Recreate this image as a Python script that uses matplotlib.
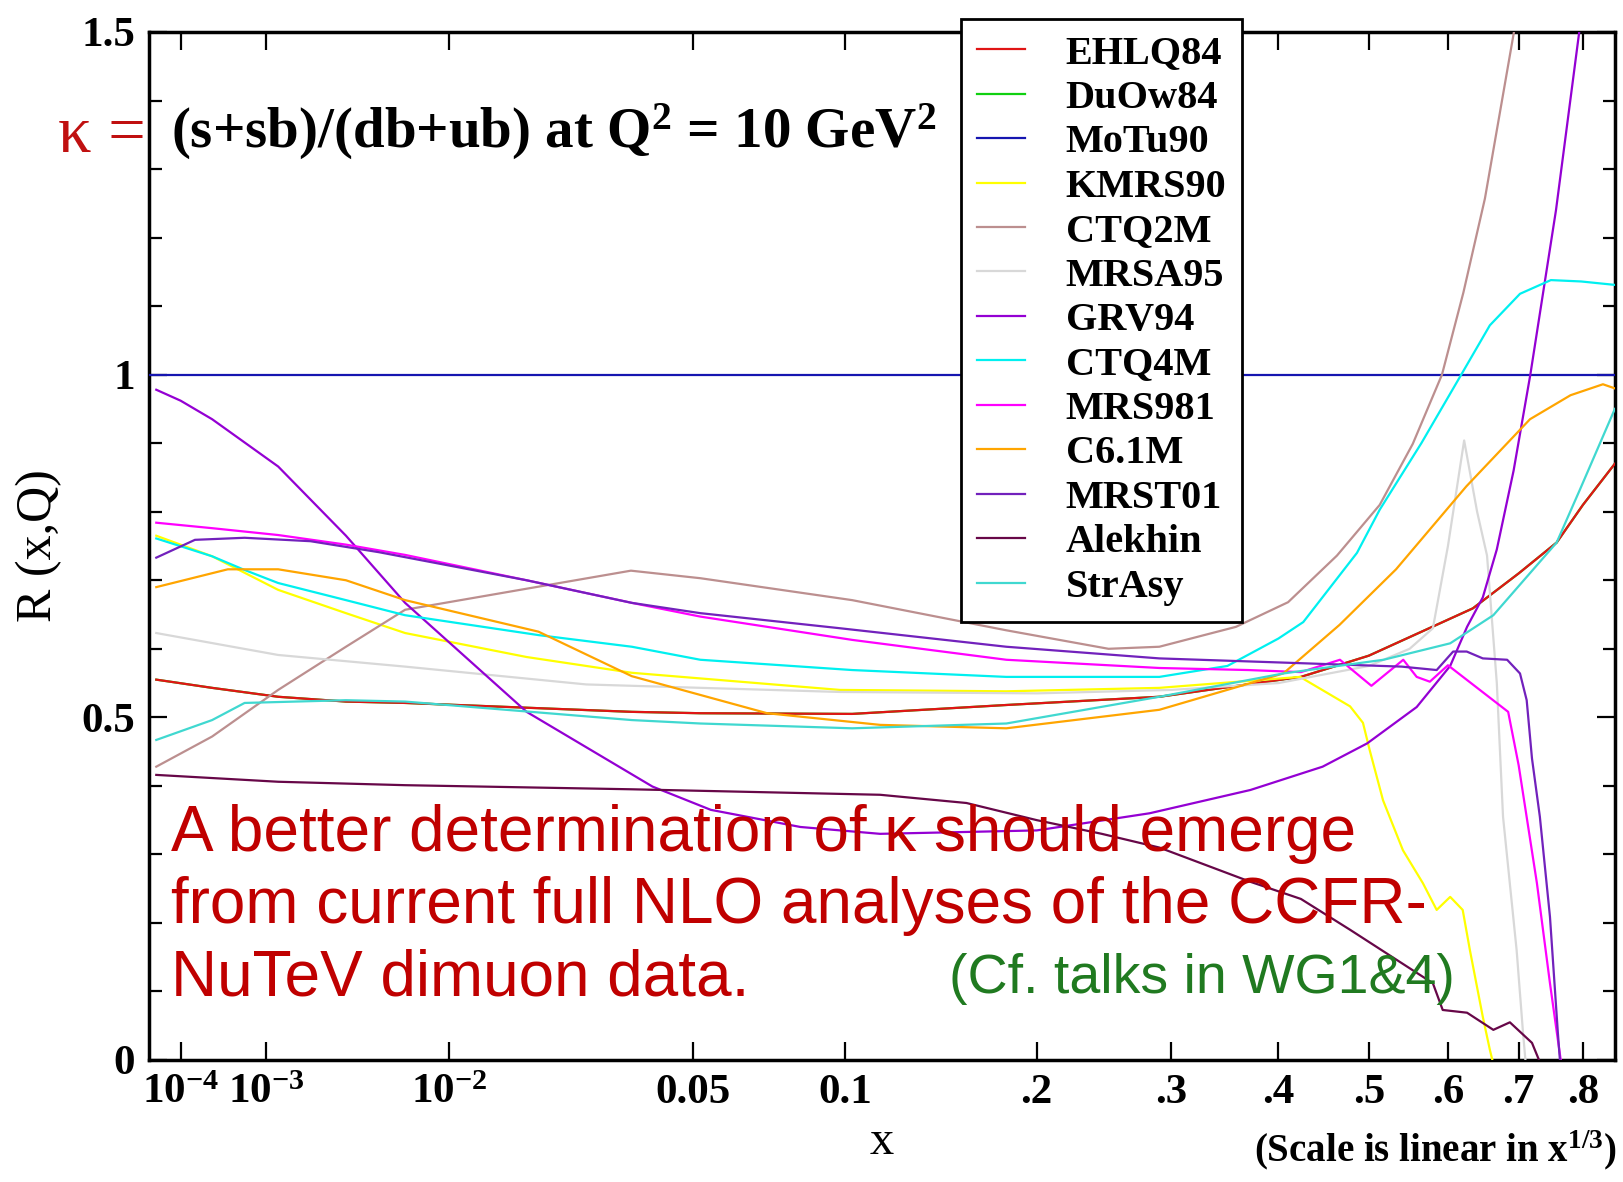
import numpy as np
import matplotlib
matplotlib.use('Agg')
import matplotlib.pyplot as plt
from matplotlib.ticker import FixedLocator, MultipleLocator, NullLocator

plt.rcParams['font.family'] = ['Liberation Serif', 'DejaVu Serif']
plt.rcParams['font.weight'] = 'bold'
plt.rcParams['mathtext.fontset'] = 'custom'
plt.rcParams['mathtext.rm'] = 'Liberation Serif:bold'
plt.rcParams['mathtext.bf'] = 'Liberation Serif:bold'
plt.rcParams['mathtext.it'] = 'Liberation Serif:bold'

# --- data (x, R) ---
x_ehlq = [3e-5, 2.9e-4, 1.25e-3, 3.4e-3, 6.6e-3, 0.036, 0.052, 0.103, 0.181, 0.29, 0.4235, 0.5, 0.585, 0.634, 0.70, 0.758, 0.80, 0.853]
y_ehlq = [0.555, 0.543, 0.530, 0.523, 0.521, 0.508, 0.506, 0.505, 0.518, 0.530, 0.559, 0.59, 0.635, 0.659, 0.71, 0.755, 0.81, 0.87]

# DuOw84 lies under EHLQ84 in the picture
x_duow = x_ehlq
y_duow = y_ehlq

x_motu = [1e-5, 0.9]
y_motu = [1.0, 1.0]

x_kmrs = [3e-5, 2.9e-4, 1.25e-3, 3.4e-3, 6.6e-3, 0.0184, 0.036, 0.098, 0.181, 0.29, 0.4226, 0.478, 0.493, 0.501, 0.517, 0.5416, 0.567, 0.585, 0.603, 0.62, 0.63, 0.648, 0.658, 0.664]
y_kmrs = [0.765, 0.735, 0.686, 0.652, 0.623, 0.588, 0.565, 0.540, 0.538, 0.543, 0.559, 0.516, 0.492, 0.452, 0.379, 0.306, 0.258, 0.219, 0.238, 0.219, 0.16, 0.063, 0.015, -0.01]

x_ctq2 = [3e-5, 2.9e-4, 1.25e-3, 3.4e-3, 6.6e-3, 0.0358, 0.052, 0.103, 0.181, 0.25, 0.29, 0.358, 0.41, 0.463, 0.513, 0.554, 0.592, 0.621, 0.651, 0.693, 0.70]
y_ctq2 = [0.428, 0.472, 0.540, 0.603, 0.657, 0.714, 0.703, 0.671, 0.627, 0.600, 0.603, 0.632, 0.668, 0.736, 0.81, 0.899, 1.0, 1.12, 1.257, 1.5, 1.56]

x_mrsa = [3e-5, 1.25e-3, 6.6e-3, 0.0274, 0.098, 0.2, 0.3, 0.4, 0.5, 0.55, 0.58, 0.60, 0.622, 0.64, 0.654, 0.668, 0.677, 0.697, 0.7065, 0.711]
y_mrsa = [0.623, 0.591, 0.574, 0.548, 0.537, 0.535, 0.54, 0.55, 0.575, 0.60, 0.63, 0.75, 0.904, 0.80, 0.736, 0.55, 0.355, 0.16, 0.04, -0.01]

x_grv = [3e-5, 1e-4, 2.9e-4, 1.25e-3, 3.4e-3, 6.6e-3, 0.0184, 0.0404, 0.0548, 0.083, 0.115, 0.2, 0.282, 0.372, 0.447, 0.498, 0.559, 0.603, 0.626, 0.648, 0.668, 0.6925, 0.7175, 0.757, 0.794, 0.80]
y_grv = [0.978, 0.962, 0.935, 0.866, 0.765, 0.667, 0.508, 0.399, 0.365, 0.34, 0.33, 0.335, 0.36, 0.394, 0.428, 0.462, 0.515, 0.575, 0.632, 0.675, 0.745, 0.86, 1.0, 1.24, 1.5, 1.56]

x_ctq4 = [3e-5, 2.9e-4, 6.5e-4, 1.25e-3, 3.4e-3, 6.6e-3, 0.02, 0.036, 0.052, 0.103, 0.181, 0.29, 0.35, 0.40, 0.426, 0.486, 0.513, 0.565, 0.618, 0.658, 0.702, 0.749, 0.797, 0.853]
y_ctq4 = [0.761, 0.735, 0.715, 0.696, 0.671, 0.649, 0.62, 0.603, 0.584, 0.569, 0.559, 0.559, 0.575, 0.615, 0.639, 0.74, 0.803, 0.90, 1.0, 1.072, 1.118, 1.138, 1.136, 1.131]

x_mrs98 = [3e-5, 2.9e-4, 1.25e-3, 3.4e-3, 6.6e-3, 0.0184, 0.036, 0.052, 0.103, 0.181, 0.29, 0.37, 0.4235, 0.4664, 0.503, 0.542, 0.559, 0.576, 0.60, 0.6845, 0.70, 0.7275, 0.7476, 0.760, 0.766]
y_mrs98 = [0.784, 0.776, 0.766, 0.752, 0.737, 0.70, 0.667, 0.647, 0.613, 0.584, 0.572, 0.569, 0.566, 0.584, 0.546, 0.584, 0.559, 0.552, 0.576, 0.508, 0.43, 0.258, 0.112, 0.029, -0.01]

x_c61 = [3e-5, 4.4e-4, 1.25e-3, 3.4e-3, 6.6e-3, 0.02, 0.036, 0.0716, 0.115, 0.181, 0.29, 0.405, 0.466, 0.533, 0.625, 0.717, 0.78, 0.833, 0.853]
y_c61 = [0.690, 0.716, 0.716, 0.700, 0.671, 0.625, 0.56, 0.506, 0.489, 0.484, 0.511, 0.564, 0.635, 0.716, 0.837, 0.935, 0.97, 0.986, 0.98]

x_mrst = [3e-5, 1.7e-4, 6.5e-4, 2.1e-3, 5e-3, 0.0184, 0.036, 0.052, 0.098, 0.181, 0.29, 0.4235, 0.54, 0.585, 0.607, 0.6255, 0.648, 0.683, 0.702, 0.712, 0.72, 0.732, 0.7476, 0.760, 0.764]
y_mrst = [0.733, 0.759, 0.762, 0.757, 0.741, 0.70, 0.667, 0.652, 0.630, 0.603, 0.586, 0.579, 0.574, 0.569, 0.596, 0.596, 0.586, 0.584, 0.564, 0.525, 0.44, 0.355, 0.209, 0.039, -0.01]

x_alek = [3e-5, 1.25e-3, 6.6e-3, 0.036, 0.115, 0.158, 0.2, 0.245, 0.29, 0.372, 0.4235, 0.478, 0.58, 0.593, 0.626, 0.663, 0.687, 0.72, 0.735]
y_alek = [0.416, 0.406, 0.401, 0.395, 0.387, 0.375, 0.35, 0.33, 0.31, 0.26, 0.235, 0.19, 0.112, 0.073, 0.069, 0.044, 0.055, 0.025, -0.01]

x_strasy = [3e-5, 2.9e-4, 6.5e-4, 3.4e-3, 6.6e-3, 0.036, 0.052, 0.103, 0.181, 0.29, 0.405, 0.5176, 0.603, 0.663, 0.758, 0.795, 0.849, 0.853]
y_strasy = [0.467, 0.496, 0.521, 0.525, 0.523, 0.496, 0.491, 0.484, 0.491, 0.53, 0.564, 0.584, 0.608, 0.649, 0.755, 0.832, 0.942, 0.95]

names = ['EHLQ84', 'DuOw84', 'MoTu90', 'KMRS90', 'CTQ2M', 'MRSA95', 'GRV94',
         'CTQ4M', 'MRS981', 'C6.1M', 'MRST01', 'Alekhin', 'StrAsy']
colors = ['#e01515', '#10d010', '#1515b0', '#ffff00', '#bc8f8f', '#d8d8d8', '#9400d3',
          '#00f0f0', '#ff00ff', '#ffa500', '#7221bc', '#670748', '#40d8d0']
xs = [x_ehlq, x_duow, x_motu, x_kmrs, x_ctq2, x_mrsa, x_grv, x_ctq4, x_mrs98, x_c61, x_mrst, x_alek, x_strasy]
ys = [y_ehlq, y_duow, y_motu, y_kmrs, y_ctq2, y_mrsa, y_grv, y_ctq4, y_mrs98, y_c61, y_mrst, y_alek, y_strasy]
zorders = [3, 2, 3, 3, 3, 3, 3, 3, 3, 3, 3, 3, 3]

xticks = [1e-4, 1e-3, 1e-2, 0.05, 0.1, 0.2, 0.3, 0.4, 0.5, 0.6, 0.7, 0.8]
xticklabels = ['$10^{-4}$', '$10^{-3}$', '$10^{-2}$', '0.05', '0.1', '.2', '.3', '.4', '.5', '.6', '.7', '.8']

msg_lines = ['A better determination of κ should emerge',
             'from current full NLO analyses of the CCFR-',
             'NuTeV dimuon data.']
msg_y = [834, 906, 979]

fig = plt.figure(figsize=(16.24, 11.82), dpi=100)
ax = fig.add_axes([149 / 1624, 1 - 1060 / 1182, (1615 - 149) / 1624, (1060 - 32) / 1182])
ax.set_xscale('function', functions=(np.cbrt, lambda v: v ** 3))

handles = []
for xv, yv, c, n, z in zip(xs, ys, colors, names, zorders):
    ln, = ax.plot(xv, yv, color=c, lw=1.6, label=n, zorder=z)
    handles.append(ln)

ax.set_xlim(1.86e-5, 0.8533)
ax.set_ylim(0, 1.5)

ax.xaxis.set_major_locator(FixedLocator(xticks))
ax.set_xticklabels(xticklabels)
ax.xaxis.set_minor_locator(NullLocator())
ax.yaxis.set_major_locator(FixedLocator([0, 0.5, 1, 1.5]))
ax.set_yticklabels(['0', '0.5', '1', '1.5'])
ax.yaxis.set_minor_locator(MultipleLocator(0.1))
ax.tick_params(which='both', direction='in', top=True, right=True, width=1.6)
ax.tick_params(which='major', length=13, labelsize=31, pad=10)
ax.tick_params(which='minor', length=9)
for sp in ax.spines.values():
    sp.set_linewidth(2.5)

ax.set_xlabel('x', fontsize=35, labelpad=6)
ax.set_ylabel('R (x,Q)', fontsize=36, labelpad=14)

fig.text(1616 / 1624, 1 - 1150 / 1182, '(Scale is linear in x$^{1/3}$)', fontsize=28,
         ha='right', va='center')

fig.text(146 / 1624, 1 - 135 / 1182, 'κ =', color='#c01010', fontsize=48, weight='normal',
         ha='right', va='center')
fig.text(171 / 1624, 1 - 132 / 1182, '(s+sb)/(db+ub) at Q$^2$ = 10 GeV$^2$', fontsize=41,
         ha='left', va='center')

sans = ['Liberation Sans', 'DejaVu Sans']
for line, yy in zip(msg_lines, msg_y):
    fig.text(171 / 1624, 1 - yy / 1182, line, fontsize=46, color='#c00000', family=sans,
             weight='normal', ha='left', va='center')
fig.text(1455 / 1624, 1 - 979 / 1182, '(Cf. talks in WG1&4)', fontsize=40, color='#207a20',
         family=sans, weight='normal', ha='right', va='center')

leg = ax.legend(handles=handles, loc='upper left', bbox_to_anchor=(961 / 1624, 1 - 19 / 1182),
                bbox_transform=fig.transFigure, fontsize=29, frameon=True, fancybox=False,
                edgecolor='black', framealpha=1, borderpad=0.4, labelspacing=0.18,
                handlelength=1.2, handletextpad=1.0, borderaxespad=0)
leg.get_frame().set_linewidth(2)
leg.set_zorder(10)

fig.savefig('out.png', dpi=100)
